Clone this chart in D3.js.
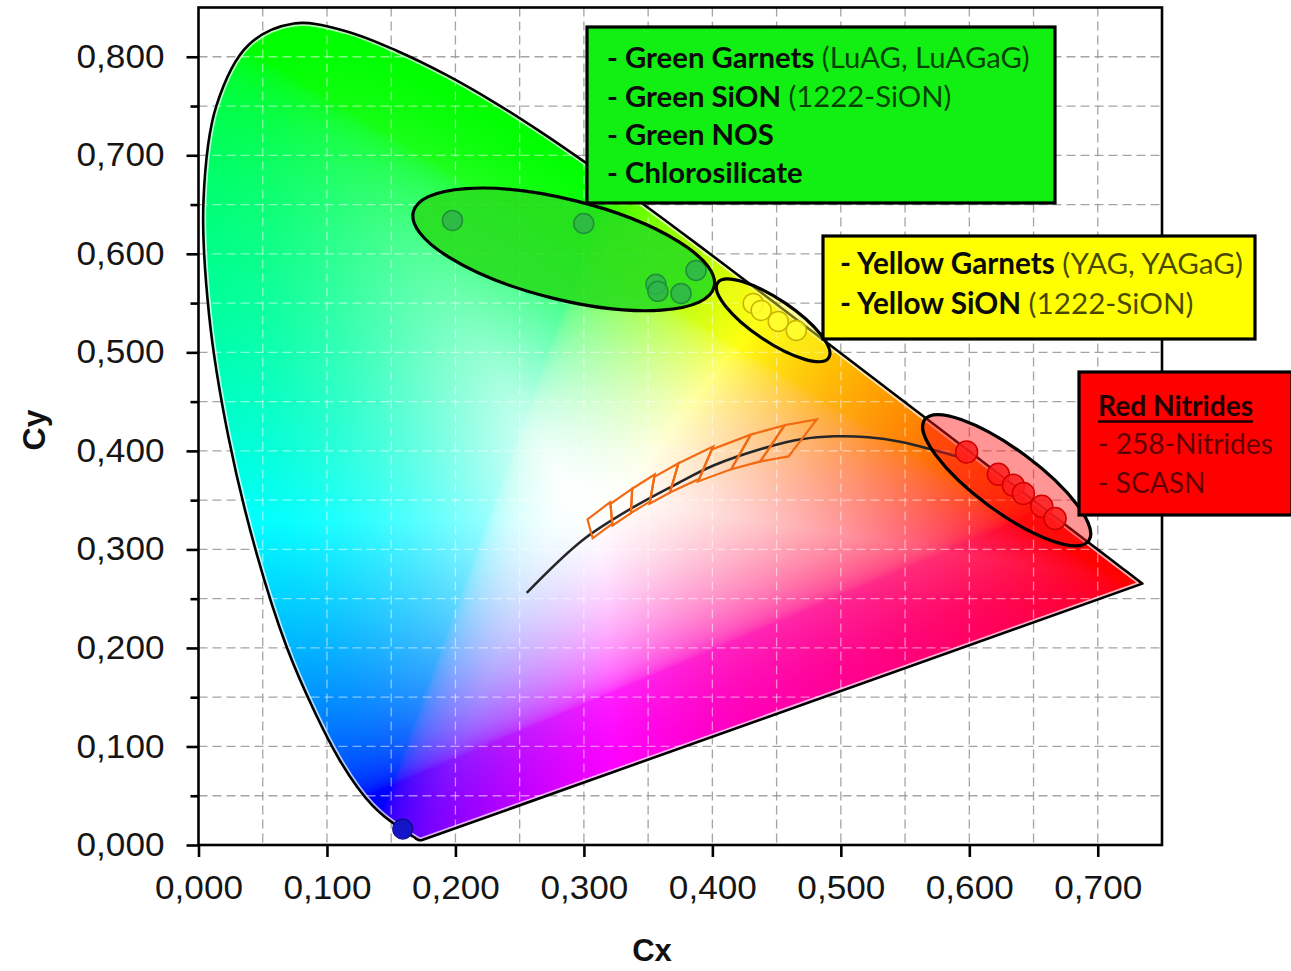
<!DOCTYPE html>
<html><head><meta charset="utf-8">
<script src="https://cdn.jsdelivr.net/npm/d3@7"></script>
<style>body{margin:0;background:#fff;} svg{display:block}</style>
</head><body>
<svg id="chart" width="1291" height="971"></svg>
<script>
// ---------------- DATA ----------------
// CIE 1931 spectral locus (chromaticity x, y), 380..700 nm, 5 nm steps
const locusX = [0.1741,0.1740,0.1738,0.1736,0.1733,0.1730,0.1726,0.1721,0.1714,0.1703,0.1689,0.1669,0.1644,0.1611,0.1566,0.1510,0.1440,0.1355,0.1241,0.1096,0.0913,0.0687,0.0454,0.0235,0.0082,0.0039,0.0139,0.0389,0.0743,0.1142,0.1547,0.1929,0.2296,0.2658,0.3016,0.3373,0.3731,0.4087,0.4441,0.4788,0.5125,0.5448,0.5752,0.6029,0.6270,0.6482,0.6658,0.6801,0.6915,0.7006,0.7079,0.7140,0.7190,0.7230,0.7260,0.7283,0.7300,0.7311,0.7320,0.7327,0.7334,0.7340,0.7344,0.7346,0.7347];
const locusY = [0.0050,0.0050,0.0049,0.0049,0.0048,0.0048,0.0048,0.0048,0.0051,0.0058,0.0069,0.0086,0.0109,0.0138,0.0177,0.0227,0.0297,0.0399,0.0578,0.0868,0.1327,0.2007,0.2950,0.4127,0.5384,0.6548,0.7502,0.8120,0.8338,0.8262,0.8059,0.7816,0.7543,0.7243,0.6923,0.6589,0.6245,0.5896,0.5547,0.5202,0.4866,0.4544,0.4242,0.3965,0.3725,0.3514,0.3340,0.3197,0.3083,0.2993,0.2920,0.2859,0.2809,0.2770,0.2740,0.2717,0.2700,0.2689,0.2680,0.2673,0.2666,0.2660,0.2656,0.2654,0.2653];

// Planckian (black-body) curve
const planckX = [0.2555,0.2989,0.3389,0.3701,0.4013,0.4434,0.4692,0.4949,0.5214,0.5472,0.5730,0.5900];
const planckY = [0.2559,0.3093,0.3431,0.3651,0.3854,0.4040,0.4118,0.4148,0.4138,0.4090,0.4006,0.3945];

// ANSI white bins (quadrangles) 2700K .. 6500K
const binNames = ["2700K","3000K","3500K","4000K","4500K","5000K","5700K","6500K"];
const binX = [
  [0.4813,0.4562,0.4373,0.4593],
  [0.4562,0.4299,0.4147,0.4373],
  [0.4299,0.3996,0.3889,0.4147],
  [0.4006,0.3736,0.3670,0.3898],
  [0.3736,0.3548,0.3512,0.3670],
  [0.3551,0.3376,0.3366,0.3515],
  [0.3376,0.3207,0.3222,0.3366],
  [0.3205,0.3028,0.3068,0.3221]];
const binY = [
  [0.4319,0.4260,0.3893,0.3944],
  [0.4260,0.4165,0.3814,0.3893],
  [0.4165,0.4015,0.3690,0.3814],
  [0.4044,0.3874,0.3578,0.3716],
  [0.3874,0.3736,0.3465,0.3578],
  [0.3760,0.3616,0.3369,0.3487],
  [0.3616,0.3462,0.3243,0.3369],
  [0.3481,0.3304,0.3113,0.3261]];

// Phosphor points
const greenX = [0.1977,0.2999,0.3873,0.3561,0.3576,0.3756];
const greenY = [0.6339,0.6308,0.5832,0.5690,0.5619,0.5598];
const yellowX = [0.4318,0.4380,0.4513,0.4653];
const yellowY = [0.5497,0.5426,0.5314,0.5223];
const redX = [0.5979,0.6226,0.6343,0.6421,0.6564,0.6668];
const redY = [0.3989,0.3763,0.3651,0.3567,0.3438,0.3313];
const blueX = [0.159];
const blueY = [0.0162];

// Group ellipse centres (data units)
const groupNames = ["green","yellow","red"];
const groupCX = [0.2843,0.4473,0.6291];
const groupCY = [0.6045,0.5325,0.3702];

// Axis ticks
const xTicks = [0,0.1,0.2,0.3,0.4,0.5,0.6,0.7];
const yTicks = [0,0.1,0.2,0.3,0.4,0.5,0.6,0.7,0.8];
const yMinor = [0.05,0.15,0.25,0.35,0.45,0.55,0.65,0.75];
const gridX = [0.05,0.1,0.15,0.2,0.25,0.3,0.35,0.4,0.45,0.5,0.55,0.6,0.65,0.7];
const gridY = [0.05,0.1,0.15,0.2,0.25,0.3,0.35,0.4,0.45,0.5,0.55,0.6,0.65,0.7,0.75,0.8];

// Box texts: [text, bold]
const greenBox = [
  [["- Green Garnets",true],[" (LuAG, LuAGaG)",false]],
  [["- Green SiON",true],[" (1222-SiON)",false]],
  [["- Green NOS",true]],
  [["- Chlorosilicate",true]]];
const yellowBox = [
  [["- Yellow Garnets",true],[" (YAG, YAGaG)",false]],
  [["- Yellow SiON",true],[" (1222-SiON)",false]]];
const redBox = [
  [["Red Nitrides",true]],
  [["- 258-Nitrides",false]],
  [["- SCASN",false]]];

// ---------------- CHART ----------------
const svg = d3.select("#chart");
const x = d3.scaleLinear().domain([0,0.75]).range([198.5,1162]);
const y = d3.scaleLinear().domain([0,0.85]).range([845,7.5]);
const L = x(0), R = x(0.75), T = y(0.85), B = y(0);
const fmt = v => d3.format(".3f")(v).replace(".", ",");

const locusPts = locusX.map((v,i)=>[v,locusY[i]]);
const lineXY = d3.line().x(d=>x(d[0])).y(d=>y(d[1]));
const locusPath = lineXY.curve(d3.curveCatmullRom)(locusPts) + "Z";

const defs = svg.append("defs");
defs.append("clipPath").attr("id","gamut").append("path").attr("d", locusPath);

// gray grid (visible on white)
const grid = svg.append("g");
function drawGrid(g, stroke, op){
  g.selectAll("line.gx").data(gridX).join("line").attr("class","gx")
    .attr("x1",d=>x(d)).attr("x2",d=>x(d)).attr("y1",T).attr("y2",B)
    .attr("stroke",stroke).attr("stroke-opacity",op).attr("stroke-width",1.3).attr("stroke-dasharray","9,5");
  g.selectAll("line.gy").data(gridY).join("line").attr("class","gy")
    .attr("y1",d=>y(d)).attr("y2",d=>y(d)).attr("x1",L).attr("x2",R)
    .attr("stroke",stroke).attr("stroke-opacity",op).attr("stroke-width",1.3).attr("stroke-dasharray","9,5");
}
drawGrid(grid, "#9a9a9a", 0.9);

// colour field
const W0 = [0.29, 0.36];
const poly = locusPts.concat([locusPts[0]]);
const NA = 3600, bdist = new Float64Array(NA);
for (let a=0;a<NA;a++){
  const th = a/NA*2*Math.PI - Math.PI, dx=Math.cos(th), dy=Math.sin(th);
  let best = 1e9;
  for (let i=0;i<poly.length-1;i++){
    const [ax,ay]=poly[i],[bx,by]=poly[i+1];
    const ex=bx-ax, ey=by-ay;
    const den = dx*ey - dy*ex;
    if (Math.abs(den)<1e-12) continue;
    const wx=ax-W0[0], wy=ay-W0[1];
    const t=(wx*ey-wy*ex)/den, u=(wx*dy-wy*dx)/den;
    if (t>0 && u>=0 && u<=1 && t<best) best=t;
  }
  bdist[a]=best;
}
const gam = c => c<=0.0031308 ? 12.92*c : 1.055*Math.pow(c,1/2.4)-0.055;
const cw = Math.ceil(R-L), ch = Math.ceil(B-T);
const canvas = document.createElement("canvas");
canvas.width=cw; canvas.height=ch;
const ctx = canvas.getContext("2d");
const img = ctx.createImageData(cw,ch);
for (let j=0;j<ch;j++){
  const cy = y.invert(T+j+0.5);
  for (let i=0;i<cw;i++){
    const cx = x.invert(L+i+0.5);
    const k4=(j*cw+i)*4;
    if (cy<=0.001){ img.data[k4+3]=0; continue; }
    const X=cx/cy, Z=(1-cx-cy)/cy;
    let r=Math.max(0, 3.2406*X-1.5372-0.4986*Z);
    let g=Math.max(0,-0.9689*X+1.8758+0.0415*Z);
    let b=Math.max(0, 0.0557*X-0.2040+1.0570*Z);
    const m=Math.max(r,g,b)||1;
    r=gam(r/m); g=gam(g/m); b=gam(b/m);
    const ddx=cx-W0[0], ddy=cy-W0[1];
    const ang=Math.atan2(ddy,ddx);
    const idx=Math.min(NA-1,Math.max(0,Math.round((ang+Math.PI)/(2*Math.PI)*NA)%NA));
    let t=Math.min(1,Math.hypot(ddx,ddy)/bdist[idx]);
    const kk=1-Math.pow(1-t,1.6);
    img.data[k4]=255*(1-kk*(1-r));
    img.data[k4+1]=255*(1-kk*(1-g));
    img.data[k4+2]=255*(1-kk*(1-b));
    img.data[k4+3]=255;
  }
}
ctx.putImageData(img,0,0);
svg.append("image").attr("x",L).attr("y",T).attr("width",cw).attr("height",ch)
  .attr("href",canvas.toDataURL()).attr("clip-path","url(#gamut)");

// light grid over the colour field
const grid2 = svg.append("g").attr("clip-path","url(#gamut)");
drawGrid(grid2, "#ffffff", 0.5);

// spectral locus outline (light halo + black line)
svg.append("path").attr("d",locusPath).attr("fill","none")
  .attr("stroke","#ffffff").attr("stroke-opacity",0.7).attr("stroke-width",6).attr("clip-path","url(#gamut)");
svg.append("path").attr("d",locusPath).attr("fill","none")
  .attr("stroke","#000").attr("stroke-width",2.6).attr("stroke-linejoin","round");

// planckian curve
svg.append("path").datum(planckX.map((v,i)=>[v,planckY[i]]))
  .attr("d", d3.line().x(d=>x(d[0])).y(d=>y(d[1])).curve(d3.curveCatmullRom))
  .attr("fill","none").attr("stroke","#262626").attr("stroke-width",2.5);

// ANSI bins
svg.append("g").selectAll("path").data(binNames).join("path")
  .attr("d",(d,i)=>d3.line().x(p=>x(p[0])).y(p=>y(p[1])).curve(d3.curveLinearClosed)(binX[i].map((v,k)=>[v,binY[i][k]])))
  .attr("fill","none").attr("stroke","#f26a12").attr("stroke-width",2.2).attr("stroke-linejoin","miter");

// groups
const ell = {
  green:{rx:155, ry:50, rot:14, fill:"rgb(40,222,30)", fop:0.88},
  yellow:{rx:67, ry:21, rot:34, fill:"rgb(250,250,40)", fop:0.45},
  red:{rx:102, ry:31, rot:36.5, fill:"rgb(255,20,20)", fop:0.45}};
const dots = {
  green:{xs:greenX, ys:greenY, r:10, fill:"#2fb44a", stroke:"#1f8f38"},
  yellow:{xs:yellowX, ys:yellowY, r:10, fill:"#ffff30", stroke:"#c9b400"},
  red:{xs:redX, ys:redY, r:11, fill:"#ff1c1c", stroke:"#d00000"}};
groupNames.forEach((nm,gi)=>{
  const e = ell[nm], g = svg.append("g");
  const tr = `translate(${x(groupCX[gi])},${y(groupCY[gi])}) rotate(${e.rot})`;
  g.append("ellipse").attr("transform",tr).attr("rx",e.rx).attr("ry",e.ry)
    .attr("fill",e.fill).attr("fill-opacity",e.fop);
  const dd = dots[nm];
  g.selectAll("circle").data(dd.xs).join("circle")
    .attr("cx",d=>x(d)).attr("cy",(d,i)=>y(dd.ys[i])).attr("r",dd.r)
    .attr("fill",dd.fill).attr("fill-opacity",0.85).attr("stroke",dd.stroke).attr("stroke-width",1.5);
  g.append("ellipse").attr("transform",tr).attr("rx",e.rx).attr("ry",e.ry)
    .attr("fill","none").attr("stroke","#000").attr("stroke-width",3.2);
});
svg.selectAll("circle.blue").data(blueX).join("circle").attr("class","blue")
  .attr("cx",d=>x(d)).attr("cy",(d,i)=>y(blueY[i])).attr("r",10)
  .attr("fill","#1515c8").attr("stroke","#0a0a90").attr("stroke-width",1.2);

// plot border
svg.append("rect").attr("x",L).attr("y",T).attr("width",R-L).attr("height",B-T)
  .attr("fill","none").attr("stroke","#000").attr("stroke-width",2.6);

// axes
const axisFont = "'Liberation Sans', Arial, sans-serif";
const gx = svg.append("g").attr("transform",`translate(0,${B})`)
  .call(d3.axisBottom(x).tickValues(xTicks).tickFormat(fmt).tickSize(12).tickPadding(19));
const gy = svg.append("g").attr("transform",`translate(${L},0)`)
  .call(d3.axisLeft(y).tickValues(yTicks).tickFormat(fmt).tickSize(12).tickPadding(22));
const gy2 = svg.append("g").attr("transform",`translate(${L},0)`)
  .call(d3.axisLeft(y).tickValues(yMinor).tickFormat("").tickSize(8));
[gx,gy,gy2].forEach(g=>{
  g.select(".domain").remove();
  g.selectAll(".tick line").attr("stroke","#000").attr("stroke-width",2.6);
  g.selectAll("text").attr("font-family",axisFont).attr("font-size",33).attr("fill","#151515")
    .attr("textLength",88).attr("lengthAdjust","spacingAndGlyphs");
});

// text boxes
const boxFont = "Lato, 'Open Sans', sans-serif";
function textBox(x0,y0,x1,y1,fill,lines,tx,ty0,dyLine,targetW,boldCol,regCol,regOp,underlineFirst){
  const g = svg.append("g");
  g.append("rect").attr("x",x0).attr("y",y0).attr("width",x1-x0).attr("height",y1-y0)
    .attr("fill",fill).attr("stroke","#000").attr("stroke-width",3.2);
  let fs = 26;
  const texts = lines.map((segs,li)=>{
    const t = g.append("text").attr("x",tx).attr("y",ty0+li*dyLine).attr("dy","0.35em")
      .attr("font-family",boxFont).attr("font-size",fs);
    segs.forEach(([s,b])=>{
      t.append("tspan").text(s).attr("font-weight",b?700:400)
        .attr("fill",b?boldCol:regCol).attr("fill-opacity",b?1:regOp);
    });
    t.style("white-space","pre");
    return t;
  });
  const w = d3.max(texts,t=>t.node().getComputedTextLength());
  fs = fs*targetW/w;
  texts.forEach(t=>t.attr("font-size",fs));
  if (underlineFirst){
    const bb = texts[0].node().getBBox();
    g.append("line").attr("x1",bb.x).attr("x2",bb.x+texts[0].node().getComputedTextLength())
      .attr("y1",ty0+fs*0.55).attr("y2",ty0+fs*0.55).attr("stroke","#1a0000").attr("stroke-width",2.6);
  }
}
textBox(587,27,1055,203,"#12ef12",greenBox,607,58,38.3,423,"#0b0b0b","#000",0.72,false);
textBox(823,236,1255,339,"#ffff00",yellowBox,840,264,39.5,403,"#0b0b0b","#000",0.72,false);
textBox(1079,372,1292,515,"#ff0000",redBox,1098,406,38.5,175,"#200000","#000",0.64,true);

// axis titles
svg.append("text").attr("x",652).attr("y",950).attr("dy","0.35em").attr("text-anchor","middle")
  .attr("font-family",axisFont).attr("font-weight",700).attr("font-size",31).attr("fill","#111").text("Cx");
svg.append("text").attr("transform","translate(34,430) rotate(-90)").attr("dy","0.35em").attr("text-anchor","middle")
  .attr("font-family",axisFont).attr("font-weight",700).attr("font-size",32).attr("fill","#111").text("Cy");
</script>
</body></html>
